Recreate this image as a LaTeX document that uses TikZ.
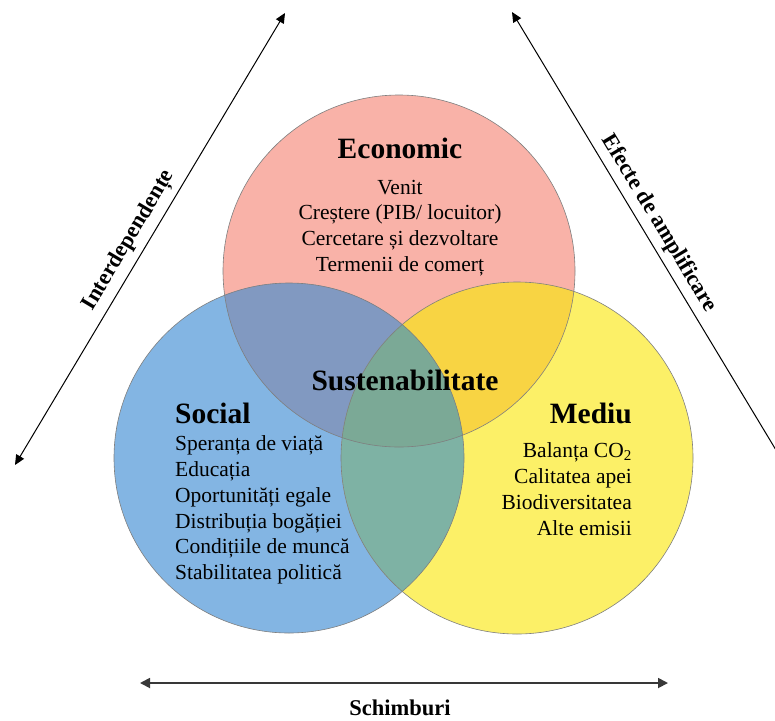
\documentclass[tikz,border=0pt]{standalone}
\usepackage{fontspec}
\setmainfont{Liberation Serif}
\usetikzlibrary{arrows.meta}
\definecolor{pinkc}{HTML}{F9B2A8}
\definecolor{bluec}{HTML}{83B5E3}
\definecolor{yellowc}{HTML}{FCF067}
\definecolor{esc}{HTML}{8199C1}
\definecolor{emc}{HTML}{F8D443}
\definecolor{smc}{HTML}{7EB2A4}
\definecolor{esmc}{HTML}{7BA996}
\definecolor{edgec}{HTML}{7F7F7F}
\tikzset{
  title/.style={inner sep=0pt, font=\fontsize{29.5}{32}\selectfont\bfseries},
  body/.style={inner sep=0pt, font=\fontsize{21.5}{25.8}\selectfont},
  lbl/.style={inner sep=0pt, font=\fontsize{22.5}{25}\selectfont\bfseries},
  dblarrow/.style={line width=1pt, {Triangle[length=10pt,width=9pt]}-{Triangle[length=10pt,width=9pt]}},
  botarrow/.style={line width=1.8pt, draw=black!78, {Triangle[length=10pt,width=10pt]}-{Triangle[length=10pt,width=10pt]}},
  outline/.style={draw=edgec, line width=0.6pt}
}
\begin{document}
\begin{tikzpicture}[x=1pt,y=-1pt]
\useasboundingbox (0,0) rectangle (775,720);
\clip (0,0) rectangle (775,720);
\coordinate (E) at (399,271);
\coordinate (S) at (289,458);
\coordinate (M) at (517,458);
% base fills
\fill[pinkc] (E) circle (176pt);
\fill[bluec] (S) circle (175pt);
\fill[yellowc] (M) circle (176pt);
% overlaps
\begin{scope}\clip (E) circle (176pt); \fill[esc] (S) circle (175pt);\end{scope}
\begin{scope}\clip (E) circle (176pt); \fill[emc] (M) circle (176pt);\end{scope}
\begin{scope}\clip (S) circle (175pt); \fill[smc] (M) circle (176pt);\end{scope}
\begin{scope}\clip (E) circle (176pt); \clip (S) circle (175pt); \fill[esmc] (M) circle (176pt);\end{scope}
% outlines
\draw[outline] (E) circle (176pt);
\draw[outline] (S) circle (175pt);
\draw[outline] (M) circle (176pt);
% texts
\node[title] (econT) at (400,148) {Economic};
\node[body, align=center] (econB) at (400,228) {Venit\\Creștere (PIB/ locuitor)\\Cercetare și dezvoltare\\Termenii de comerț};
\node[title, anchor=west] (socT) at (175,413) {Social};
\node[body, align=left, anchor=west] (socB) at (175,510) {Speranța de viață\\Educația\\Oportunități egale\\Distribuția bogăției\\Condițiile de muncă\\Stabilitatea politică};
\node[title, anchor=east] (medT) at (632,413) {Mediu};
\node[body, align=right, anchor=east] (medB) at (632,489) {Balanța CO\textsubscript{2}\\Calitatea apei\\Biodiversitatea\\Alte emisii};
\node[title] (sust) at (405,380) {Sustenabilitate};
% arrows
\coordinate (l1) at (15,465);
\coordinate (l2) at (285,13);
\coordinate (r1) at (512,12);
\coordinate (r2) at (785,465);
\coordinate (b1) at (140,683);
\coordinate (b2) at (668,683);
\draw[dblarrow] (l1) -- (l2) node[pos=0.477, sloped, above=6pt, lbl] (intL) {Interdependențe};
\draw[dblarrow] (r1) -- (r2) node[pos=0.486, sloped, above=6pt, lbl] (efL) {Efecte de amplificare};
\draw[botarrow] (b1) -- (b2);
\node[lbl] (schL) at (400,708) {Schimburi};
\end{tikzpicture}
\end{document}
